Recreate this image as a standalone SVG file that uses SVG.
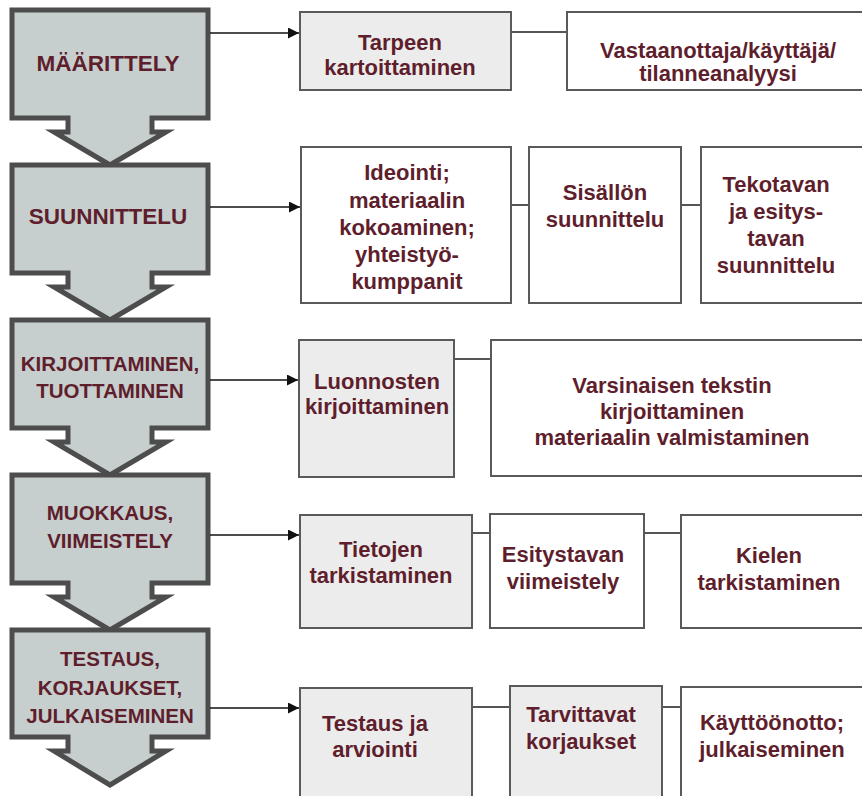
<svg xmlns="http://www.w3.org/2000/svg" width="862" height="796" viewBox="0 0 862 796">
<defs>
<style>
.stage{fill:#c7cece;stroke:#4d4d4d;stroke-width:5;stroke-linejoin:miter}
.box{stroke:#5a5a5a;stroke-width:2;fill:#ffffff}
.gray{fill:#ececec}
.lt{font-family:"Liberation Sans",Arial,sans-serif;font-weight:bold;fill:#5e1e2c;text-anchor:middle}
.st{font-size:20.5px}
.big{font-size:22.5px}
.bt{font-size:22px}
.arr{stroke:#111;stroke-width:1.6;fill:none}
.con{stroke:#555;stroke-width:2;fill:none}
</style>
<marker id="ah" viewBox="0 0 10 10" refX="10" refY="5" markerWidth="11" markerHeight="11" markerUnits="userSpaceOnUse" orient="auto">
<path d="M0,0 L10,5 L0,10 Z" fill="#111"/>
</marker>
</defs>
<rect width="862" height="796" fill="#ffffff"/>

<g id="stage1">
<path class="stage" d="M12,10 H208 V118 H152 V132 H166 L110,165 L54,132 H68 V118 H12 Z"/>
<text class="lt big" x="108" y="71">MÄÄRITTELY</text>
</g>
<g id="stage2">
<path class="stage" d="M12,165 H208 V273 H152 V287 H166 L110,320 L54,287 H68 V273 H12 Z"/>
<text class="lt big" x="108" y="224">SUUNNITTELU</text>
</g>
<g id="stage3">
<path class="stage" d="M12,320 H208 V428 H152 V442 H166 L110,475 L54,442 H68 V428 H12 Z"/>
<text class="lt st" x="110" y="371">KIRJOITTAMINEN,</text>
<text class="lt st" x="110" y="398">TUOTTAMINEN</text>
</g>
<g id="stage4">
<path class="stage" d="M12,475 H208 V583 H152 V597 H166 L110,630 L54,597 H68 V583 H12 Z"/>
<text class="lt st" x="110" y="520">MUOKKAUS,</text>
<text class="lt st" x="110" y="548">VIIMEISTELY</text>
</g>
<g id="stage5">
<path class="stage" d="M12,630 H208 V737 H152 V751 H166 L110,785 L54,751 H68 V737 H12 Z"/>
<text class="lt st" x="110" y="666">TESTAUS,</text>
<text class="lt st" x="110" y="695">KORJAUKSET,</text>
<text class="lt st" x="110" y="723">JULKAISEMINEN</text>
</g>

<g id="connectors">
<line class="arr" x1="210" y1="33" x2="299" y2="33" marker-end="url(#ah)"/>
<line class="arr" x1="210" y1="207" x2="300" y2="207" marker-end="url(#ah)"/>
<line class="arr" x1="210" y1="380" x2="298" y2="380" marker-end="url(#ah)"/>
<line class="arr" x1="210" y1="535" x2="299" y2="535" marker-end="url(#ah)"/>
<line class="arr" x1="210" y1="708" x2="299" y2="708" marker-end="url(#ah)"/>
<line class="con" x1="511" y1="32" x2="567" y2="32"/>
<line class="con" x1="511" y1="205" x2="529" y2="205"/>
<line class="con" x1="681" y1="205" x2="701" y2="205"/>
<line class="con" x1="454" y1="359" x2="491" y2="359"/>
<line class="con" x1="472" y1="533" x2="490" y2="533"/>
<line class="con" x1="644" y1="533" x2="681" y2="533"/>
<line class="con" x1="472" y1="707" x2="510" y2="707"/>
<line class="con" x1="662" y1="707" x2="681" y2="707"/>
</g>

<g id="tarpeen">
<rect class="box gray" x="300" y="12" width="211" height="78"/>
<text class="lt bt" x="400" y="50">Tarpeen</text>
<text class="lt bt" x="400" y="75">kartoittaminen</text>
</g>
<g id="vastaanottaja">
<rect class="box" x="567" y="12" width="310" height="78"/>
<text class="lt bt" x="718" y="58">Vastaanottaja/käyttäjä/</text>
<text class="lt bt" x="718" y="81">tilanneanalyysi</text>
</g>

<g id="ideointi">
<rect class="box" x="301" y="147" width="210" height="156"/>
<text class="lt bt" x="407" y="180">Ideointi;</text>
<text class="lt bt" x="407" y="208">materiaalin</text>
<text class="lt bt" x="407" y="235">kokoaminen;</text>
<text class="lt bt" x="407" y="262">yhteistyö-</text>
<text class="lt bt" x="407" y="289">kumppanit</text>
</g>
<g id="sisallon">
<rect class="box" x="529" y="147" width="152" height="156"/>
<text class="lt bt" x="605" y="200">Sisällön</text>
<text class="lt bt" x="605" y="227">suunnittelu</text>
</g>
<g id="tekotavan">
<rect class="box" x="701" y="147" width="176" height="156"/>
<text class="lt bt" x="776" y="192">Tekotavan</text>
<text class="lt bt" x="776" y="219">ja esitys-</text>
<text class="lt bt" x="776" y="246">tavan</text>
<text class="lt bt" x="776" y="273">suunnittelu</text>
</g>

<g id="luonnosten">
<rect class="box gray" x="299" y="340" width="155" height="137"/>
<text class="lt bt" x="377" y="389">Luonnosten</text>
<text class="lt bt" x="377" y="414">kirjoittaminen</text>
</g>
<g id="varsinaisen">
<rect class="box" x="491" y="340" width="386" height="136"/>
<text class="lt bt" x="672" y="393">Varsinaisen tekstin</text>
<text class="lt bt" x="672" y="419">kirjoittaminen</text>
<text class="lt bt" x="672" y="445">materiaalin valmistaminen</text>
</g>

<g id="tietojen">
<rect class="box gray" x="300" y="515" width="172" height="113"/>
<text class="lt bt" x="381" y="557">Tietojen</text>
<text class="lt bt" x="381" y="583">tarkistaminen</text>
</g>
<g id="esitystavan">
<rect class="box" x="490" y="514" width="154" height="114"/>
<text class="lt bt" x="563" y="562">Esitystavan</text>
<text class="lt bt" x="563" y="589">viimeistely</text>
</g>
<g id="kielen">
<rect class="box" x="681" y="515" width="196" height="113"/>
<text class="lt bt" x="769" y="563">Kielen</text>
<text class="lt bt" x="769" y="590">tarkistaminen</text>
</g>

<g id="testaus">
<rect class="box gray" x="300" y="688" width="172" height="130"/>
<text class="lt bt" x="375" y="731">Testaus ja</text>
<text class="lt bt" x="375" y="757">arviointi</text>
</g>
<g id="tarvittavat">
<rect class="box gray" x="510" y="686" width="152" height="132"/>
<text class="lt bt" x="581" y="722">Tarvittavat</text>
<text class="lt bt" x="581" y="749">korjaukset</text>
</g>
<g id="kayttoonotto">
<rect class="box" x="681" y="687" width="196" height="131"/>
<text class="lt bt" x="772" y="730">Käyttöönotto;</text>
<text class="lt bt" x="772" y="757">julkaiseminen</text>
</g>
</svg>
